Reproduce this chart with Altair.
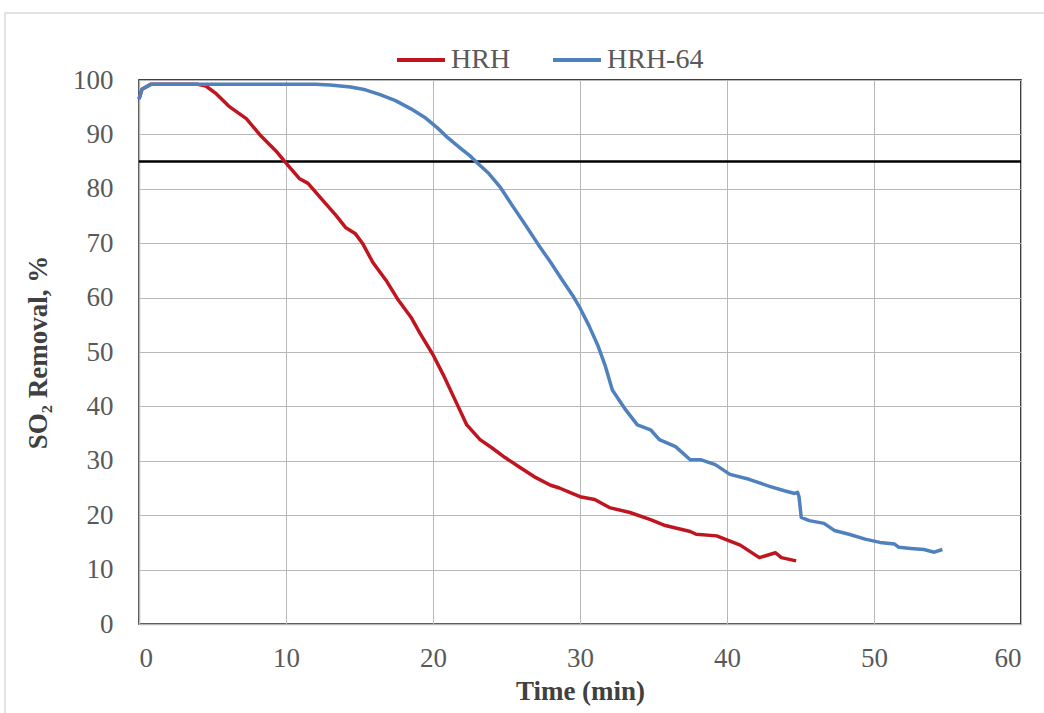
import altair as alt
import pandas as pd

# HRH (red) series
hrh_t = [0, 0.2, 0.8, 2, 3, 4, 4.55, 5.2, 6.1, 7.3, 8.3, 9.3, 10.05, 10.9, 11.5, 12.4, 13.4,
         14.05, 14.7, 15.2, 15.9, 16.8, 17.65, 18.5, 19.1, 20, 20.7, 21.5, 22.3, 23.2, 24,
         24.9, 25.9, 27, 28, 28.6, 29.3, 30, 31, 32, 33.4, 34.8, 35.8, 37.5, 37.9, 39.3,
         40.9, 42.2, 43.3, 43.7, 44.7]
hrh_v = [96.5, 98.3, 99.2, 99.2, 99.2, 99.2, 98.9, 97.6, 95.2, 92.9, 89.7, 87, 84.6, 81.9, 81, 78.2,
         75.1, 72.9, 71.8, 70, 66.5, 63.2, 59.5, 56.4, 53.5, 49.5, 45.8, 41.2, 36.6, 33.9,
         32.4, 30.6, 28.8, 26.9, 25.5, 25.0, 24.2, 23.4, 22.9, 21.4, 20.5, 19.2, 18.1, 17,
         16.5, 16.2, 14.5, 12.2, 13.1, 12.2, 11.6]

# HRH-64 (blue) series
hrh64_t = [0, 0.2, 0.8, 3, 6, 9, 12, 13, 14.4, 15.4, 16.4, 17.45, 18.5, 19.5, 20.3, 21,
           21.9, 22.5, 23, 23.8, 24.6, 25.4, 26.3, 27.2, 28, 28.8, 29.5, 30, 30.6, 31.2,
           31.7, 32.2, 33.1, 33.9, 34.8, 35.4, 36.5, 37.5, 38.2, 39.2, 40.2, 41.5, 42.9,
           43.9, 44.6, 44.8, 44.9, 45.05, 45.6, 46.6, 47.3, 48.3, 49.4, 50.4, 51.4, 51.7,
           52.5, 53.4, 54.1, 54.65]
hrh64_v = [96.5, 98.3, 99.2, 99.2, 99.2, 99.2, 99.2, 99.1, 98.7, 98.2, 97.3, 96.2, 94.7,
           93, 91.2, 89.4, 87.4, 86.1, 84.8, 82.8, 80.2, 76.9, 73.3, 69.6, 66.5, 63.2,
           60.4, 58.1, 54.9, 51.3, 47.6, 43, 39.4, 36.6, 35.7, 33.9, 32.6, 30.2, 30.2,
           29.3, 27.5, 26.6, 25.3, 24.5, 24, 24.2, 23.4, 19.6, 19, 18.5, 17.2, 16.5, 15.6,
           15, 14.7, 14.1, 13.9, 13.7, 13.2, 13.7]

series_names = ["HRH", "HRH-64"]
series_colors = ["#c0151f", "#4f81bd"]
x_ticks = [0, 10, 20, 30, 40, 50, 60]
y_ticks = [0, 10, 20, 30, 40, 50, 60, 70, 80, 90, 100]
threshold = [85]

df = pd.concat([
    pd.DataFrame({"t": hrh_t, "v": hrh_v, "s": "HRH", "o": range(len(hrh_t))}),
    pd.DataFrame({"t": hrh64_t, "v": hrh64_v, "s": "HRH-64", "o": range(len(hrh64_t))}),
])

FONT = "Liberation Serif"

xenc = alt.X("t:Q", scale=alt.Scale(domain=[0, 60], nice=False),
             axis=alt.Axis(values=x_ticks, title="Time (min)", labelPadding=21,
                           titlePadding=7))
yenc = alt.Y("v:Q", scale=alt.Scale(domain=[0, 100], nice=False),
             axis=alt.Axis(values=y_ticks, title="SO₂ Removal, %", labelPadding=26,
                           titlePadding=20))
cenc = alt.Color("s:N", scale=alt.Scale(domain=series_names, range=series_colors),
                 legend=alt.Legend(title=None, orient="none", legendX=256, legendY=-46,
                                   direction="horizontal", symbolType="stroke",
                                   symbolStrokeWidth=4, symbolSize=2304,
                                   labelFont=FONT, labelFontSize=28,
                                   labelColor="#595959", labelOffset=4,
                                   columnPadding=34, padding=0))

border = alt.Chart(pd.DataFrame({"a": [0]})).mark_rect(
    fillOpacity=0, stroke="#d9d9d9", strokeWidth=1.5
).encode(x=alt.value(-134), x2=alt.value(915), y=alt.value(-67), y2=alt.value(650))

rule = alt.Chart(pd.DataFrame({"y": threshold})).mark_rule(
    color="#000000", strokeWidth=2.5
).encode(y=alt.Y("y:Q", scale=alt.Scale(domain=[0, 100], nice=False)))

base = alt.Chart(df).mark_line(strokeWidth=3.5, strokeJoin="round").encode(
    x=xenc, y=yenc, order="o:Q", color=cenc)
red_line = base.transform_filter(alt.datum.s == "HRH")
blue_line = base.transform_filter(alt.datum.s == "HRH-64")

chart = alt.layer(border, rule, red_line, blue_line).properties(
    width=882, height=544,
    autosize=alt.AutoSizeParams(type="none"),
    padding={"left": 139, "top": 80, "right": 23, "bottom": 89},
).configure_view(
    stroke="#000000", strokeWidth=1.5
).configure_axis(
    labelFont=FONT, labelFontSize=27, labelColor="#595959",
    titleFont=FONT, titleFontSize=27, titleFontWeight="bold", titleColor="#404040",
    gridColor="#b8b8b8", gridWidth=1, domainColor="#b8b8b8", domainWidth=1.5,
    ticks=False,
)

chart.save("out.html", embed_options={"renderer": "svg", "actions": False})
